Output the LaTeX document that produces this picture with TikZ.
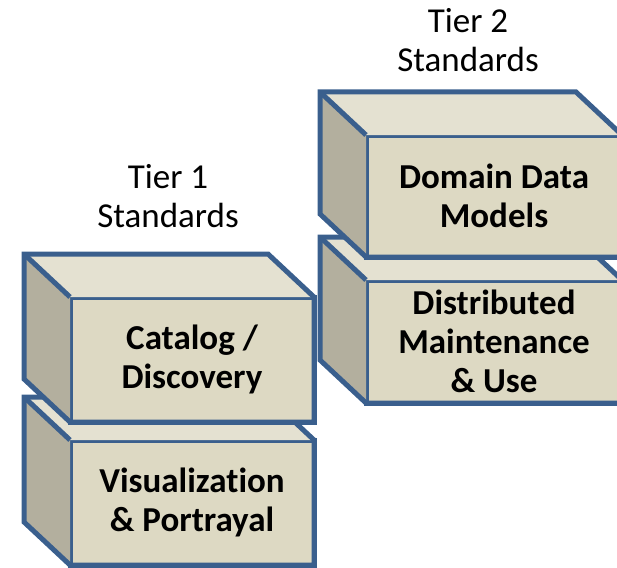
\documentclass[tikz,border=0pt]{standalone}
\usepackage{fontspec}
\setmainfont{Carlito}[Ligatures=NoCommon]
\usepackage{tikz}
\usepackage{xcolor}

\definecolor{facefront}{HTML}{DDD9C3}
\definecolor{facetop}{HTML}{E4E1D1}
\definecolor{faceside}{HTML}{B3AF9E}
\definecolor{edgeblue}{HTML}{3A5F8D}

% top and side faces of a box, drawn behind the front node
\newcommand{\boxsides}[1]{%
\path ([shift={(-46,-43)}]#1.north west) coordinate (#1-bnw)
      ([shift={(-46,-43)}]#1.north east) coordinate (#1-bne)
      ([shift={(-46,-43)}]#1.south west) coordinate (#1-bsw);
\fill[facetop] (#1.north west) -- (#1-bnw) -- (#1-bne) -- (#1.north east) -- cycle;
\fill[faceside] (#1.north west) -- (#1-bnw) -- (#1-bsw) -- (#1.south west) -- cycle;
\draw[boxedge] (#1.south west) -- (#1-bsw) -- (#1-bnw) -- (#1-bne) -- (#1.north east) -- (#1.south east) -- cycle;
\draw[boxedge] (#1-bnw) -- (#1.north west);
}

\begin{document}
\begin{tikzpicture}[x=1pt,y=-1pt,
  boxedge/.style={draw=edgeblue, line width=5pt},
  frontface/.style={boxedge, fill=facefront, rectangle, outer sep=0pt, inner sep=0pt,
    align=center, text=black, font=\fontsize{35}{39}\selectfont\bfseries},
  tierlabel/.style={align=center, font=\fontsize{35}{39}\selectfont}]

\useasboundingbox (0,0) rectangle (617,567);
\clip (0,0) rectangle (617,567);

% Tier 1 column
\node[frontface, minimum width=244pt, minimum height=125pt] (vis) at (192,502.5) {Visualization\\\& Portrayal};
\boxsides{vis}
\node[frontface, minimum width=244pt, minimum height=125pt] (cat) at (192,359.5) {Catalog /\\Discovery};
\boxsides{cat}

% Tier 2 column
\node[frontface, minimum width=256pt, minimum height=123pt] (dist) at (494,341.5) {Distributed\\Maintenance\\\& Use};
\boxsides{dist}
\node[frontface, minimum width=256pt, minimum height=122pt] (dom) at (494,196) {Domain Data\\Models};
\boxsides{dom}

\node[tierlabel] (tier1) at (168,196) {Tier 1\\Standards};
\node[tierlabel] (tier2) at (468,40) {Tier 2\\Standards};

\end{tikzpicture}
\end{document}
